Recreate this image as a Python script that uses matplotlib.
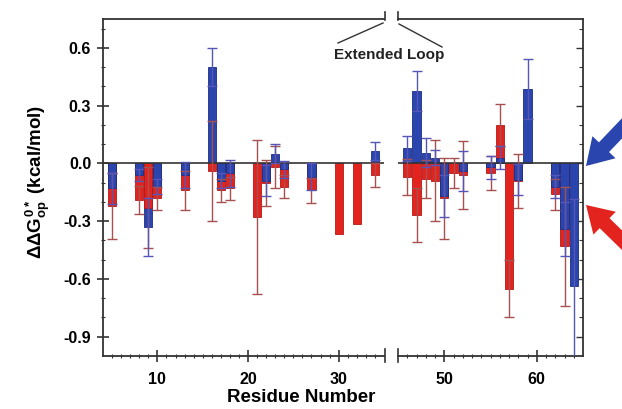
import numpy as np
import matplotlib
matplotlib.use("Agg")
import matplotlib.pyplot as plt
from matplotlib.patches import FancyArrow

plt.rcParams['font.family'] = ['Liberation Sans', 'DejaVu Sans']
plt.rcParams['font.weight'] = 'bold'
plt.rcParams['mathtext.fontset'] = 'custom'
plt.rcParams['mathtext.rm'] = 'Liberation Sans:bold'
plt.rcParams['mathtext.bf'] = 'Liberation Sans:bold'
plt.rcParams['mathtext.it'] = 'Liberation Sans:bold'

# red series
red_res = [5, 8, 9, 10, 13, 16, 17, 18, 21, 22, 23, 24, 27, 30, 32, 34,
           46, 47, 48, 49, 50, 51, 52, 55, 56, 57, 58, 62, 63]
red_val = [-0.22, -0.19, -0.23, -0.18, -0.14, -0.04, -0.14, -0.13, -0.28, -0.10,
           -0.02, -0.12, -0.14, -0.365, -0.315, -0.06,
           -0.07, -0.27, -0.08, -0.09, -0.18, -0.05, -0.06, -0.05, 0.20, -0.65,
           -0.09, -0.16, -0.43]
red_err = [0.17, 0.075, 0.21, 0.06, 0.10, 0.26, 0.06, 0.06, 0.40, 0.12,
           0.11, 0.06, 0.065, 0.0, 0.0, 0.06,
           0.095, 0.14, 0.10, 0.21, 0.21, 0.08, 0.175, 0.09, 0.11, 0.15,
           0.14, 0.08, 0.31]

# blue series
blue_res = [5, 8, 9, 10, 13, 16, 17, 18, 22, 23, 24, 27, 34,
            46, 47, 48, 49, 50, 52, 55, 56, 58, 59, 62, 63, 64]
blue_val = [-0.13, -0.06, -0.33, -0.12, -0.06, 0.50, -0.09, -0.05, -0.09, 0.05,
            -0.03, -0.07, 0.065,
            0.08, 0.375, 0.055, 0.03, -0.17, -0.04, -0.02, 0.03, -0.085, 0.385,
            -0.12, -0.34, -0.635]
blue_err = [0.08, 0.03, 0.15, 0.04, 0.07, 0.10, 0.04, 0.07, 0.08, 0.05,
            0.045, 0.07, 0.045,
            0.065, 0.105, 0.075, 0.04, 0.11, 0.105, 0.06, 0.06, 0.08, 0.155,
            0.06, 0.14, 0.45]

y_ticks = [-0.9, -0.6, -0.3, 0.0, 0.3, 0.6]
y_tick_labels = ['-0.9', '-0.6', '-0.3', '0.0', '0.3', '0.6']
left_xticks = [10, 20, 30]
right_xticks = [50, 60]

RED = '#e3241e'
RED_EDGE = '#b31a16'
RED_ERR = '#a85050'
BLUE = '#2a45ad'
BLUE_EDGE = '#1c2d85'
BLUE_ERR = '#5656b8'
SPINE = '#333333'

W, H = 622, 409
fig = plt.figure(figsize=(W / 100, H / 100), dpi=100)


def px_axes(x0, x1, y0, y1):
    return fig.add_axes([x0 / W, 1 - y1 / H, (x1 - x0) / W, (y1 - y0) / H])


ax1 = px_axes(103, 384, 19, 356)
ax2 = px_axes(398, 583, 19, 356)

red_map = dict(zip(red_res, red_val))
blue_map = dict(zip(blue_res, blue_val))


def draw(ax, lo, hi):
    for res, val, err, other, fc, ec, errc in [
            (red_res, red_val, red_err, blue_map, RED, RED_EDGE, RED_ERR),
            (blue_res, blue_val, blue_err, red_map, BLUE, BLUE_EDGE, BLUE_ERR)]:
        for r, v, e in zip(res, val, err):
            if not (lo <= r <= hi):
                continue
            # the shorter bar of a residue sits in front
            z = 3 if (r in other and abs(v) < abs(other[r])) else 2
            ax.bar(r, v, width=0.9, color=fc, edgecolor=ec, linewidth=0.6,
                   zorder=z)
            if e > 0:
                ax.errorbar(r, v, yerr=e, fmt='none', ecolor=errc,
                            elinewidth=1.0, capsize=3.3, capthick=1.0,
                            zorder=5)
    ax.axhline(0, color=SPINE, lw=1.2, zorder=4)
    ax.set_ylim(-1.0, 0.75)
    for s in ax.spines.values():
        s.set_color(SPINE)
        s.set_linewidth(1.3)


draw(ax1, 4, 35)
draw(ax2, 45, 65)

ax1.set_xlim(4, 35)
ax2.set_xlim(45, 65)

# left panel ticks
ax1.spines['right'].set_visible(False)
ax1.set_xticks(left_xticks)
ax1.set_xticklabels([str(t) for t in left_xticks])
ax1.set_xticks(np.arange(5, 35), minor=True)
ax1.set_yticks(y_ticks)
ax1.set_yticklabels(y_tick_labels)
ax1.set_yticks(np.arange(-0.9, 0.75, 0.1), minor=True)
ax1.tick_params(axis='both', which='major', direction='inout', length=9,
                width=1.2, color=SPINE, labelsize=11.5, pad=4)
ax1.tick_params(axis='both', which='minor', direction='inout', length=3,
                width=0.8, color=SPINE)
ax1.tick_params(axis='x', which='major', pad=7)
ax1.tick_params(top=False, right=False, which='both')

# right panel ticks
ax2.spines['left'].set_visible(False)
ax2.set_xticks(right_xticks)
ax2.set_xticklabels([str(t) for t in right_xticks])
ax2.set_xticks(np.arange(46, 65), minor=True)
ax2.set_yticks(y_ticks)
ax2.set_yticks(np.arange(-0.9, 0.75, 0.1), minor=True)
ax2.tick_params(axis='x', which='major', direction='inout', length=9,
                width=1.2, color=SPINE, labelsize=11.5, pad=7)
ax2.tick_params(axis='x', which='minor', direction='inout', length=3,
                width=0.8, color=SPINE)
ax2.tick_params(axis='y', which='both', left=False, right=True,
                labelleft=False, labelright=False, direction='in',
                color=SPINE)
ax2.tick_params(axis='y', which='major', length=5, width=1.0)
ax2.tick_params(axis='y', which='minor', length=3, width=0.8)

# labels
fig.text(301 / W, 1 - 398 / H, 'Residue Number', ha='center', va='center',
         fontsize=13.5, fontweight='bold')
fig.text(38 / W, 1 - 182 / H,
         r'$\Delta\Delta G_{op}^{0*}$ (kcal/mol)',
         rotation=90, ha='center', va='center', fontsize=13.5,
         fontweight='bold')

# overlay in pixel coordinates for break marks, loop label and arrows
ov = fig.add_axes([0, 0, 1, 1], facecolor='none')
ov.set_xlim(0, W)
ov.set_ylim(H, 0)
ov.axis('off')

for x in (385, 397.5):
    ov.plot([x, x], [12, 20], color=SPINE, lw=1.2)
    ov.plot([x, x], [349, 362], color=SPINE, lw=1.2)
ov.plot([383, 338], [23, 43], color=SPINE, lw=1.0)
ov.plot([399, 442], [24, 47], color=SPINE, lw=1.0)
ov.text(389, 55, 'Extended Loop', ha='center', va='center', fontsize=11,
        fontweight='bold', color='#222222')

ov.add_patch(FancyArrow(630, 120, -44, 46, width=14, head_width=32,
                        head_length=26, length_includes_head=True,
                        color=BLUE, ec='none'))
ov.add_patch(FancyArrow(630, 248, -44, -43, width=14, head_width=32,
                        head_length=26, length_includes_head=True,
                        color=RED, ec='none'))

fig.savefig('out.png', dpi=100)
